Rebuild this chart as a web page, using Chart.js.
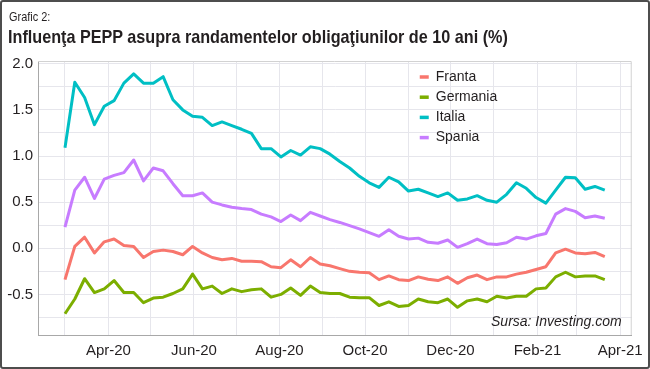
<!DOCTYPE html>
<html lang="ro">
<head>
<meta charset="UTF-8">
<title>Grafic 2</title>
<style>
  body { margin: 0; background: #fff; }
  .frame {
    position: relative;
    width: 650px;
    height: 369px;
    overflow: hidden;
    font-family: 'Liberation Sans Narrow', 'Arial Narrow', 'Liberation Sans', sans-serif;
    color: #231f20;
  }
  .frame canvas { position: absolute; left: 0; top: 0; }
  .subtitle {
    position: absolute; left: 9px; top: 10px; font-size: 13px; line-height: 13px;
    white-space: nowrap; transform: scaleX(0.84); transform-origin: left top;
  }
  .title {
    position: absolute; left: 8px; top: 28px; font-size: 18.5px; line-height: 18px; font-weight: bold;
    white-space: nowrap; transform: scaleX(0.875); transform-origin: left top;
  }
  .border {
    position: absolute; left: 0; top: 0; right: 0; bottom: 0;
    border: 2px solid #4d4d4d; border-radius: 3px; pointer-events: none;
  }
</style>
</head>
<body>
<div class="frame">
  <canvas id="chart" width="650" height="369"></canvas>
  <div class="subtitle">Grafic 2:</div>
  <div class="title">Influenţa PEPP asupra randamentelor obligaţiunilor de 10 ani (%)</div>
  <div class="border"></div>
</div>

<script src="https://cdn.jsdelivr.net/npm/chart.js"></script>
<script>
  // weekly observations, first one on 1 March 2020
  const firstWeek = '2020-03-01';

  const franta = [-0.34, 0.02, 0.12, -0.05, 0.07, 0.10, 0.03, 0.02, -0.10, -0.035, -0.02, -0.035, -0.07, 0.02,
    -0.05, -0.10, -0.125, -0.11, -0.14, -0.14, -0.145, -0.20, -0.21, -0.125, -0.20, -0.10, -0.17, -0.19,
    -0.22, -0.25, -0.26, -0.265, -0.34, -0.30, -0.34, -0.35, -0.31, -0.335, -0.35, -0.31, -0.38, -0.32,
    -0.29, -0.34, -0.31, -0.31, -0.28, -0.26, -0.23, -0.20, -0.05, -0.01, -0.05, -0.06, -0.045, -0.09];
  const germania = [-0.71, -0.55, -0.33, -0.48, -0.44, -0.35, -0.48, -0.48, -0.59, -0.54, -0.53, -0.49, -0.44, -0.28,
    -0.44, -0.41, -0.49, -0.44, -0.47, -0.45, -0.44, -0.53, -0.50, -0.43, -0.51, -0.41, -0.48, -0.49,
    -0.49, -0.53, -0.535, -0.535, -0.62, -0.58, -0.63, -0.62, -0.55, -0.58, -0.59, -0.55, -0.64, -0.57,
    -0.55, -0.58, -0.52, -0.54, -0.52, -0.52, -0.44, -0.43, -0.31, -0.26, -0.31, -0.30, -0.30, -0.34];
  const italia = [1.09, 1.80, 1.635, 1.34, 1.54, 1.60, 1.79, 1.89, 1.79, 1.79, 1.86, 1.61, 1.50, 1.43,
    1.42, 1.33, 1.37, 1.33, 1.29, 1.245, 1.08, 1.08, 0.99, 1.06, 1.01, 1.10, 1.08, 1.02,
    0.94, 0.87, 0.78, 0.71, 0.66, 0.77, 0.72, 0.62, 0.64, 0.60, 0.56, 0.60, 0.52, 0.535,
    0.57, 0.52, 0.50, 0.585, 0.71, 0.65, 0.55, 0.49, 0.63, 0.77, 0.765, 0.64, 0.67, 0.63];
  const spania = [0.23, 0.63, 0.77, 0.54, 0.75, 0.79, 0.82, 0.957, 0.73, 0.87, 0.84, 0.70, 0.57, 0.57,
    0.60, 0.50, 0.47, 0.445, 0.43, 0.42, 0.37, 0.34, 0.29, 0.36, 0.30, 0.39, 0.35, 0.31,
    0.28, 0.245, 0.21, 0.17, 0.13, 0.20, 0.13, 0.10, 0.11, 0.065, 0.055, 0.09, 0.01, 0.05,
    0.10, 0.05, 0.04, 0.06, 0.12, 0.10, 0.135, 0.16, 0.37, 0.43, 0.40, 0.33, 0.35, 0.325];

  const seriesNames = ['Franta', 'Germania', 'Italia', 'Spania'];
  const seriesColors = ['#F8766D', '#7CAE00', '#00BFC4', '#C77CFF'];

  // month gridlines; only every second month gets a label
  const monthTicks = ['2020-03-01', '2020-04-01', '2020-05-01', '2020-06-01', '2020-07-01', '2020-08-01',
    '2020-09-01', '2020-10-01', '2020-11-01', '2020-12-01', '2021-01-01', '2021-02-01', '2021-03-01', '2021-04-01'];
  const monthLabels = ['', 'Apr-20', '', 'Jun-20', '', 'Aug-20', '', 'Oct-20', '', 'Dec-20', '', 'Feb-21', '', 'Apr-21'];
  const yTicks = [-0.75, -0.5, -0.25, 0, 0.25, 0.5, 0.75, 1, 1.25, 1.5, 1.75, 2];

  const FONT = "'Liberation Sans Narrow', 'Arial Narrow', 'Liberation Sans', sans-serif";
  const DAY = 86400000;
  const t0 = Date.parse(firstWeek);
  const dayOf = s => (Date.parse(s) - t0) / DAY;

  const weekDays = franta.map((v, i) => i * 7);
  const span = weekDays[weekDays.length - 1];
  const tickDays = monthTicks.map(dayOf);

  const datasets = [franta, germania, italia, spania].map((vals, k) => ({
    label: seriesNames[k],
    data: vals.map((v, i) => ({ x: weekDays[i], y: v })),
    borderColor: seriesColors[k],
    backgroundColor: seriesColors[k],
    borderWidth: 3,
    pointRadius: 0,
    tension: 0,
    borderJoinStyle: 'round'
  }));

  const panelPlugin = {
    id: 'panel',
    beforeDatasetsDraw(chart) {
      const { ctx, chartArea: a } = chart;
      ctx.save();
      ctx.strokeStyle = '#d2d2d2';
      ctx.lineWidth = 1;
      ctx.beginPath();
      ctx.moveTo(a.left, a.top + 0.5);
      ctx.lineTo(a.right - 0.5, a.top + 0.5);
      ctx.lineTo(a.right - 0.5, a.bottom);
      ctx.stroke();
      ctx.restore();
    },
    afterDraw(chart) {
      const { ctx, chartArea: a } = chart;
      ctx.save();
      // legend
      ctx.font = '14px ' + FONT;
      ctx.textBaseline = 'middle';
      chart.data.datasets.forEach((ds, i) => {
        const y = a.top + 16 + i * 20.2;
        ctx.strokeStyle = ds.borderColor;
        ctx.lineWidth = 3.5;
        ctx.beginPath();
        ctx.moveTo(a.right - 212, y);
        ctx.lineTo(a.right - 203, y);
        ctx.stroke();
        ctx.fillStyle = '#231f20';
        ctx.fillText(ds.label, a.right - 196, y);
      });
      // source note
      ctx.font = 'italic 14px ' + FONT;
      ctx.textAlign = 'right';
      ctx.textBaseline = 'alphabetic';
      ctx.fillStyle = '#231f20';
      ctx.fillText('Sursa: Investing.com', a.right - 10, a.bottom - 9);
      ctx.restore();
    }
  };

  new Chart(document.getElementById('chart'), {
    type: 'line',
    data: { datasets },
    plugins: [panelPlugin],
    options: {
      responsive: false,
      animation: false,
      devicePixelRatio: 1,
      layout: { padding: { top: 61, right: 16, left: 0, bottom: 0 } },
      plugins: { legend: { display: false }, tooltip: { enabled: false } },
      scales: {
        x: {
          type: 'linear',
          min: -span * 0.05,
          max: span * 1.05,
          afterBuildTicks: s => { s.ticks = tickDays.map(v => ({ value: v })); },
          afterFit: s => { s.height = 34; },
          grid: { color: '#e6e6ec', lineWidth: 1, drawTicks: false },
          border: { color: '#a8a8a8', width: 1 },
          ticks: {
            autoSkip: false,
            maxRotation: 0,
            padding: 7,
            color: '#231f20',
            font: { family: FONT, size: 15 },
            callback: v => monthLabels[tickDays.indexOf(v)] || ''
          }
        },
        y: {
          min: -0.94,
          max: 2.03,
          afterBuildTicks: s => { s.ticks = yTicks.map(v => ({ value: v })); },
          afterFit: s => { s.width = 38; },
          grid: { color: '#e6e6ec', lineWidth: 1, drawTicks: false },
          border: { color: '#a8a8a8', width: 1 },
          ticks: {
            padding: 5,
            color: '#231f20',
            font: { family: FONT, size: 15 },
            callback: v => (Math.abs(v * 2 - Math.round(v * 2)) < 1e-9 ? v.toFixed(1) : '')
          }
        }
      }
    }
  });
</script>
</body>
</html>
